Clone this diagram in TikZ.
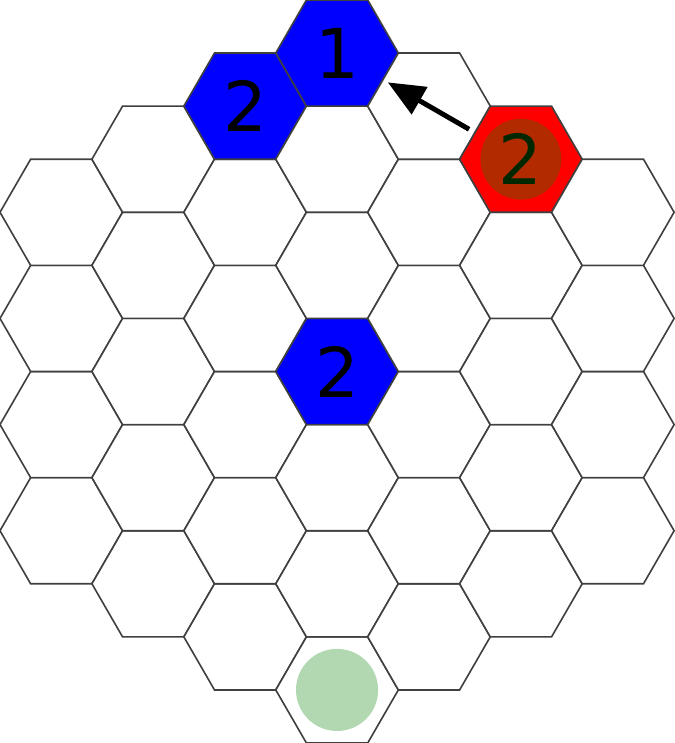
\documentclass[tikz,border=0pt]{standalone}
\usepackage{fontspec}
\setmainfont{DejaVu Sans}
\usetikzlibrary{arrows.meta, shapes.geometric}
\definecolor{piecered}{RGB}{178,42,0}
\definecolor{goalgreen}{RGB}{178,216,178}
\definecolor{numgreen}{RGB}{0,40,0}

\begin{document}
\begin{tikzpicture}[font=\fontsize{32}{32}\selectfont,
  cell/.style={draw=black!75, line width=0.75pt, fill=white, regular polygon, regular polygon sides=6,
    minimum size=2cm, inner sep=0pt, outer sep=0pt},
  own/.style={fill=blue},
  enemy/.style={fill=red},
  num/.style={inner sep=0pt},
  dot/.style={circle, inner sep=0pt, minimum size=1.32cm},
  c3-7/.style={own}, c2-6/.style={own}, c3-4/.style={own}, c5-5/.style={enemy}]
  \useasboundingbox (-5.5,-6.062) rectangle (5.5,6.062);
  % board: 7 columns, 4..7 cells each
  \foreach \c/\n in {0/4,1/5,2/6,3/7,4/6,5/5,6/4}
    \foreach \k in {1,...,\n}
      \node[cell, c\c-\k/.try] (h\c-\k) at ({1.5*(\c-3)},{sqrt(3)*(\k-(\n+1)/2)}) {};
  \node[num] (one) at (h3-7) {1};
  \node[num] (twoa) at (h2-6) {2};
  \node[num] (twob) at (h3-4) {2};
  \node[dot, fill=piecered, text=numgreen] (twor) at (h5-5) {2};
  \node[dot, fill=goalgreen, minimum size=1.34cm] (goal) at (h3-1) {};
  \draw[-{Triangle[length=6mm, width=5mm]}, line width=2.3pt, shorten <=1.1mm, shorten >=0.9mm] (h5-5) -- (h3-7);
\end{tikzpicture}
\end{document}
